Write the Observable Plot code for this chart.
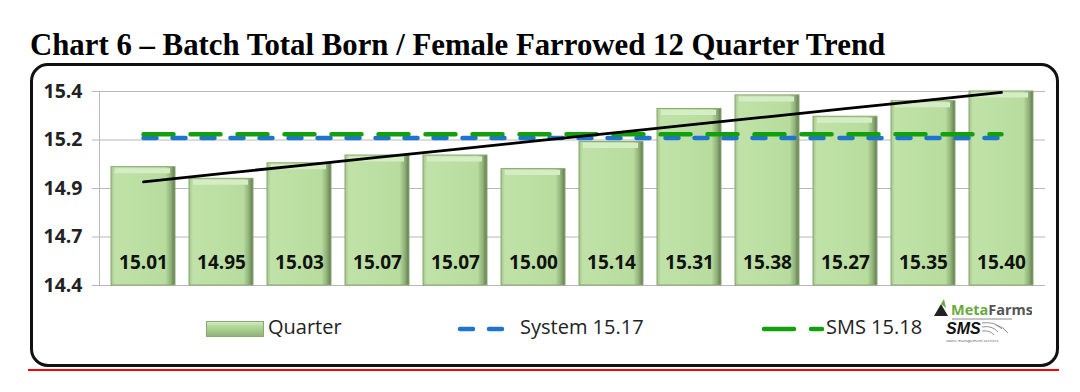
<!DOCTYPE html>
<html>
<head>
<meta charset="utf-8">
<script src="https://cdn.jsdelivr.net/npm/d3@7"></script>
<script src="https://cdn.jsdelivr.net/npm/@observablehq/plot@0.6"></script>
<style>
  html, body { margin: 0; padding: 0; background: #fff; }
  #wrap { position: relative; width: 1080px; height: 392px; overflow: hidden; font-family: "Open Sans", sans-serif; }
  #title { position: absolute; left: 30px; top: 28px; font-family: "Liberation Serif", "Times New Roman", serif; font-weight: bold; font-size: 30.8px; line-height: 34px; color: #000; white-space: nowrap; }
  #box { position: absolute; left: 30px; top: 63px; width: 1029px; height: 304px; box-sizing: border-box; border: 3px solid #111; border-radius: 18px; }
  #redline { position: absolute; left: 28px; top: 369px; width: 1031px; height: 2px; background: #ff0000; }
  #chart { position: absolute; left: 0; top: 0; }
  .leg { position: absolute; font-size: 20px; color: #222; line-height: 24px; white-space: nowrap; }
  #logo { position: absolute; left: 932px; top: 299px; width: 100px; }
</style>
</head>
<body>
<div id="wrap">
  <div id="title">Chart 6 – Batch Total Born / Female Farrowed 12 Quarter Trend</div>
  <div id="box"></div>
  <div id="redline"></div>
  <div id="chart"></div>
  <div id="legend"></div>
  <div id="logo">
    <svg width="100" height="48" viewBox="0 0 100 48">
      <polygon points="2,17 9,5 16,17" fill="#222"/>
      <polygon points="9,5 12,0 14,9" fill="#6aaa3c"/>
      <text x="19" y="16" font-family="Open Sans, sans-serif" font-weight="bold" font-size="14.5" fill="#6aaa3c">Meta<tspan fill="#555">Farms</tspan></text>
      <line x1="20" y1="20" x2="80" y2="20" stroke="#888" stroke-width="1"/>
      <text x="14" y="35" font-family="Liberation Sans, sans-serif" font-weight="bold" font-style="italic" font-size="16" fill="#111">SMS</text>
      <path d="M50,24 q12,-2 20,6 M50,28 q10,-2 16,5 M50,32 q8,-1 12,4 M64,26 q8,2 12,8" stroke="#777" stroke-width="0.8" fill="none"/>
      <text x="14" y="43" font-family="Open Sans, sans-serif" font-size="4" fill="#555">swine management services</text>
    </svg>
  </div>
</div>
<script>
// ---- data ----
const quarters = ["Q1","Q2","Q3","Q4","Q5","Q6","Q7","Q8","Q9","Q10","Q11","Q12"];
const quarterValues = [15.01, 14.95, 15.03, 15.07, 15.07, 15.00, 15.14, 15.31, 15.38, 15.27, 15.35, 15.40];
const systemAvg = 15.17;
const smsAvg = 15.18;
const yDomain = [14.4, 15.4];
const yTicks = [14.4, 14.65, 14.9, 15.15, 15.4];
const yTickLabels = ["14.4", "14.7", "14.9", "15.2", "15.4"];
const legendLabels = ["Quarter", "System 15.17", "SMS 15.18"];

// ---- derived tables ----
const bars = quarters.map((q, i) => ({q, v: quarterValues[i]}));
const n = quarterValues.length;
const mx = (n - 1) / 2;
const my = d3.mean(quarterValues);
const slope = d3.sum(quarterValues, (v, i) => (i - mx) * (v - my)) / d3.sum(quarterValues, (v, i) => (i - mx) ** 2);
const trend = quarters.map((q, i) => ({q, v: my + slope * (i - mx)}));
const systemLine = quarters.map(q => ({q, v: systemAvg}));
const smsLine = quarters.map(q => ({q, v: smsAvg}));

const chart = Plot.plot({
  width: 1080,
  height: 392,
  marginLeft: 99,
  marginRight: 35,
  marginTop: 91,
  marginBottom: 107,
  style: {background: "transparent", color: "#222", fontFamily: "Open Sans, sans-serif"},
  x: {type: "band", domain: quarters, paddingInner: 0.177, paddingOuter: 0.076, axis: null},
  y: {domain: yDomain, axis: null},
  marks: [
    Plot.gridY(yTicks, {stroke: "#b8b8b8", strokeOpacity: 1}),
    Plot.axisY(yTicks, {tickSize: 7, stroke: "#b8b8b8", tickFormat: () => "", label: null}),
    Plot.axisY(yTicks, {tickSize: 0, tickPadding: 17, tickFormat: (d, i) => yTickLabels[i], fontSize: 19.5, fontWeight: "bold", fill: "#222", label: null}),
    Plot.frame({anchor: "left", stroke: "#b8b8b8"}),
    Plot.barY(bars, {x: "q", y1: yDomain[0], y2: "v", fill: "url(#barGrad)", stroke: "#8aa872", strokeWidth: 1}),
    Plot.tickY(bars, {x: "q", y: "v", stroke: "#d4edc4", strokeWidth: 5, dy: 3.5, insetLeft: 4, insetRight: 5}),
    Plot.text(bars, {x: "q", y: () => yDomain[0], text: d => d.v.toFixed(2), dy: -23, fontSize: 19, fontWeight: "bold", fill: "#111"}),
    Plot.line(systemLine, {x: "q", y: "v", stroke: "#1f73d1", strokeWidth: 4.5, strokeDasharray: "13,16", strokeLinecap: "round", dy: 2}),
    Plot.line(smsLine, {x: "q", y: "v", stroke: "#13a00f", strokeWidth: 4.5, strokeDasharray: "30,17", strokeLinecap: "round"}),
    Plot.line(trend, {x: "q", y: "v", stroke: "#000", strokeWidth: 2.8})
  ]
});

const ns = "http://www.w3.org/2000/svg";
const defs = document.createElementNS(ns, "defs");
defs.innerHTML = `
  <linearGradient id="barGrad" x1="0" y1="0" x2="1" y2="0">
    <stop offset="0" stop-color="#a3c48b"/>
    <stop offset="0.06" stop-color="#c0e2a8"/>
    <stop offset="0.85" stop-color="#b8dc9e"/>
    <stop offset="0.93" stop-color="#93b37b"/>
    <stop offset="1" stop-color="#5f7b4d"/>
  </linearGradient>`;
chart.insertBefore(defs, chart.firstChild);
document.getElementById("chart").appendChild(chart);

// ---- legend ----
const legend = document.getElementById("legend");
legend.innerHTML = `
  <svg style="position:absolute;left:206px;top:321px" width="58" height="16">
    <rect x="0.5" y="0.5" width="57" height="15" fill="url(#barGradLeg)" stroke="#8aa872"/>
    <defs><linearGradient id="barGradLeg" x1="0" y1="0" x2="0" y2="1">
      <stop offset="0" stop-color="#d4edc4"/><stop offset="0.3" stop-color="#b6db9b"/><stop offset="1" stop-color="#8fb078"/>
    </linearGradient></defs>
  </svg>
  <div class="leg" style="left:268px;top:315px">${legendLabels[0]}</div>
  <svg style="position:absolute;left:456px;top:324px" width="52" height="10">
    <line x1="4" y1="5" x2="48" y2="5" stroke="#1f73d1" stroke-width="4.5" stroke-dasharray="13,16" stroke-linecap="round"/>
  </svg>
  <div class="leg" style="left:520px;top:315px">${legendLabels[1]}</div>
  <svg style="position:absolute;left:761px;top:324px" width="64" height="10">
    <line x1="3" y1="5" x2="61" y2="5" stroke="#13a00f" stroke-width="4.5" stroke-dasharray="30,17" stroke-linecap="round"/>
  </svg>
  <div class="leg" style="left:826px;top:315px">${legendLabels[2]}</div>
`;
</script>
</body>
</html>
